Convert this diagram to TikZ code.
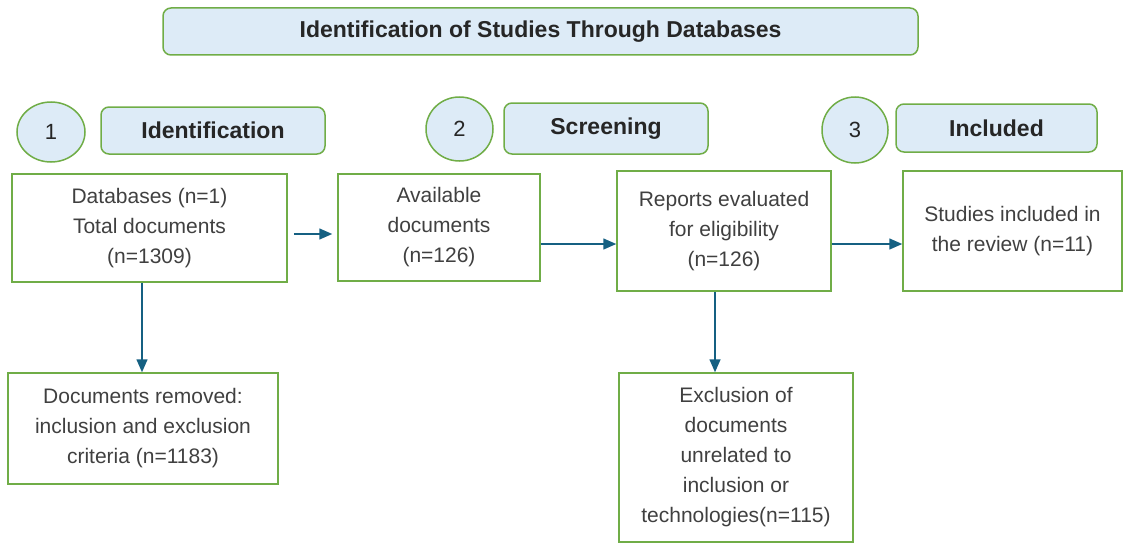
\documentclass[tikz,border=0pt]{standalone}
\usepackage{fontspec}
\setmainfont{Liberation Sans}
\usepackage{xcolor}
\usetikzlibrary{arrows.meta,shapes.geometric}
\definecolor{paleblue}{RGB}{221,235,247}
\definecolor{framegreen}{RGB}{112,173,71}
\definecolor{arrowteal}{RGB}{21,96,130}
\definecolor{bodygray}{RGB}{64,64,64}

\begin{document}
\begin{tikzpicture}[x=1pt, y=-1pt,
  box/.style={draw=framegreen, line width=1.5pt, align=center, inner sep=4pt, text=bodygray, font=\fontsize{21pt}{30pt}\selectfont},
  phase/.style={draw=framegreen, fill=paleblue, line width=1.5pt, rounded corners=8pt, align=center, font=\fontsize{23pt}{28pt}\selectfont\bfseries, text=black!85},
  num/.style={ellipse, draw=framegreen, fill=paleblue, line width=1.5pt, inner sep=0pt, font=\fontsize{22pt}{26pt}\selectfont, text=black!85},
  arr/.style={-{Triangle[length=13pt,width=11pt]}, draw=arrowteal, line width=1.5pt}]
\useasboundingbox (0,0) rectangle (1131,543);
% title
\node[phase, minimum width=755pt, minimum height=47pt] (title) at (540.5,31.5) {Identification of Studies Through Databases};
% phase headers
\node[num, minimum width=68pt, minimum height=60pt] (c1) at (51,132) {1};
\node[phase, minimum width=224pt, minimum height=47pt] (h1) at (213,130.5) {Identification};
\node[num, minimum width=67pt, minimum height=64pt] (c2) at (459.5,129) {2};
\node[phase, minimum width=204pt, minimum height=51pt] (h2) at (606,128.5) {Screening};
\node[num, minimum width=66pt, minimum height=66pt] (c3) at (855,130) {3};
\node[phase, minimum width=201pt, minimum height=48pt] (h3) at (996.5,128) {Included};
% flow boxes
\node[box, minimum width=275pt, minimum height=108pt] (db) at (149.5,228) {Databases (n=1)\\Total documents\\(n=1309)};
\node[box, minimum width=202pt, minimum height=107pt] (avail) at (439,227.5) {Available\\documents\\(n=126)};
\node[box, minimum width=214pt, minimum height=120pt] (elig) at (724,231) {Reports evaluated\\for eligibility\\(n=126)};
\node[box, minimum width=219pt, minimum height=120pt] (incl) at (1012.5,231) {Studies included in\\the review (n=11)};
\node[box, minimum width=270pt, minimum height=111pt] (removed) at (143,428.5) {Documents removed:\\inclusion and exclusion\\criteria (n=1183)};
\node[box, minimum width=234pt, minimum height=169pt] (excl) at (736,457.5) {Exclusion of\\documents\\unrelated to\\inclusion or\\technologies(n=115)};
% connectors
\draw[arr, shorten <=6pt, shorten >=5pt] ([yshift=-6pt]db.east) -- ([yshift=-6pt]db.east -| avail.west);
\draw[arr] ([yshift=-13pt]elig.west -| avail.east) -- ([yshift=-13pt]elig.west);
\draw[arr] ([yshift=-13pt]elig.east) -- ([yshift=-13pt]elig.east -| incl.west);
\draw[arr] ([xshift=-7.5pt]db.south) -- ([xshift=-7.5pt]db.south |- removed.north);
\draw[arr] ([xshift=-9pt]elig.south) -- ([xshift=-9pt]elig.south |- excl.north);
\end{tikzpicture}
\end{document}
